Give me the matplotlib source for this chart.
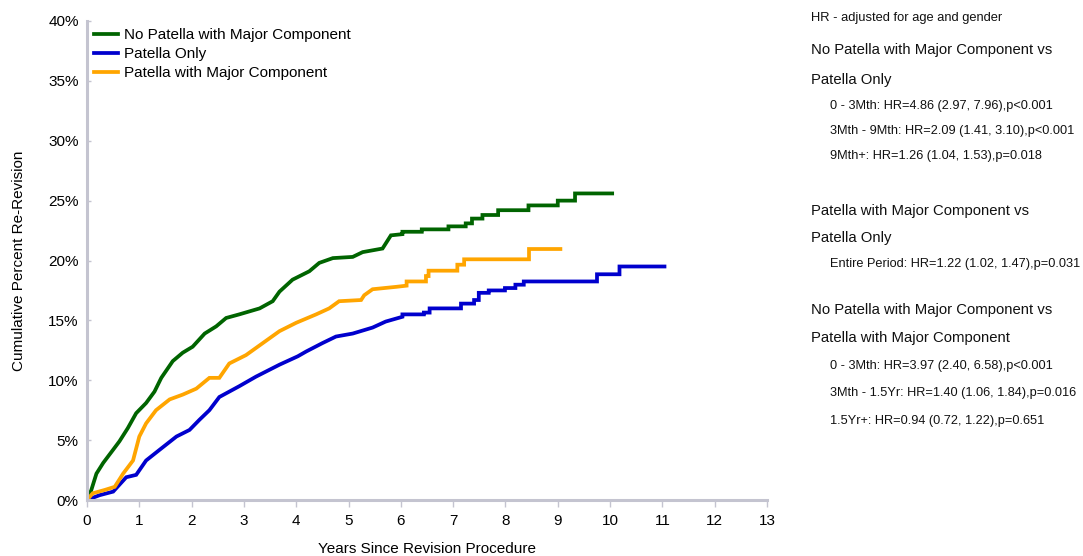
import matplotlib
matplotlib.use('Agg')
import matplotlib.pyplot as plt
import matplotlib.ticker as ticker

plt.rcParams['font.family'] = ['Liberation Sans', 'DejaVu Sans']

# vertices: years since revision, cumulative percent re-revision
green_t = [0, 0.08, 0.18, 0.31, 0.5, 0.62, 0.78, 0.94, 1.13, 1.29, 1.42, 1.64, 1.83, 2.02,
           2.25, 2.47, 2.66, 2.91, 3.3, 3.55, 3.68, 3.93, 4.25, 4.44, 4.7, 5.08, 5.27, 5.65,
           5.81, 6.03, 6.03, 6.4, 6.4, 6.91, 6.91, 7.24, 7.24, 7.36, 7.36, 7.56, 7.56,
           7.86, 7.86, 8.44, 8.44, 9.0, 9.0, 9.33, 9.33, 10.04]
green_y = [0, 0.8, 2.2, 3.1, 4.2, 4.9, 6.0, 7.25, 8.1, 9.05, 10.2, 11.6, 12.3, 12.8,
           13.9, 14.5, 15.2, 15.5, 16.0, 16.6, 17.4, 18.4, 19.1, 19.8, 20.2, 20.3, 20.7, 21.0,
           22.1, 22.2, 22.4, 22.4, 22.6, 22.6, 22.85, 22.85, 23.1, 23.1, 23.5, 23.5, 23.8,
           23.8, 24.2, 24.2, 24.6, 24.6, 25.0, 25.0, 25.6, 25.6]

blue_t = [0, 0.24, 0.5, 0.75, 0.94, 1.13, 1.39, 1.71, 1.96, 2.15, 2.34, 2.53, 2.91, 3.23,
          3.68, 4.03, 4.19, 4.5, 4.76, 5.08, 5.46, 5.71, 6.03, 6.03, 6.44, 6.44, 6.55, 6.55,
          7.15, 7.15, 7.4, 7.4, 7.49, 7.49, 7.68, 7.68, 7.99, 7.99, 8.19, 8.19, 8.35, 8.35,
          9.75, 9.75, 10.18, 10.18, 11.04]
blue_y = [0, 0.4, 0.7, 1.9, 2.1, 3.3, 4.2, 5.3, 5.85, 6.7, 7.5, 8.6, 9.5, 10.3,
          11.3, 12.0, 12.4, 13.1, 13.65, 13.9, 14.4, 14.9, 15.3, 15.5, 15.5, 15.65, 15.65, 16.0,
          16.0, 16.4, 16.4, 16.7, 16.7, 17.3, 17.3, 17.5, 17.5, 17.7, 17.7, 17.98, 17.98, 18.25,
          18.25, 18.85, 18.85, 19.5, 19.5]

orange_t = [0, 0.11, 0.34, 0.53, 0.69, 0.88, 1.0, 1.13, 1.32, 1.58, 1.83, 2.09, 2.34, 2.53,
            2.72, 3.04, 3.36, 3.68, 4.0, 4.38, 4.63, 4.82, 5.24, 5.3, 5.46, 5.91, 6.11, 6.11,
            6.48, 6.48, 6.53, 6.53, 7.08, 7.08, 7.21, 7.21, 8.45, 8.45, 9.05]
orange_y = [0, 0.56, 0.84, 1.1, 2.2, 3.3, 5.3, 6.4, 7.5, 8.4, 8.8, 9.3, 10.2, 10.2,
            11.4, 12.1, 13.1, 14.1, 14.8, 15.5, 16.0, 16.6, 16.7, 17.1, 17.6, 17.8, 17.9, 18.25,
            18.25, 18.7, 18.7, 19.15, 19.15, 19.65, 19.65, 20.1, 20.1, 20.96, 20.96]

series = [
    ('No Patella with Major Component', green_t, green_y, '#006400'),
    ('Patella Only', blue_t, blue_y, '#0000CD'),
    ('Patella with Major Component', orange_t, orange_y, '#FFA500'),
]

hr_lines = [
    # text, y (px from top), x (px), size
    ('HR - adjusted for age and gender', 18, 811, 9.3),
    ('No Patella with Major Component vs', 50, 811, 10.7),
    ('Patella Only', 80, 811, 10.7),
    ('0 - 3Mth: HR=4.86 (2.97, 7.96),p<0.001', 106, 830, 9.2),
    ('3Mth - 9Mth: HR=2.09 (1.41, 3.10),p<0.001', 131, 830, 9.2),
    ('9Mth+: HR=1.26 (1.04, 1.53),p=0.018', 156, 830, 9.2),
    ('Patella with Major Component vs', 211, 811, 10.7),
    ('Patella Only', 238, 811, 10.7),
    ('Entire Period: HR=1.22 (1.02, 1.47),p=0.031', 264, 830, 9.2),
    ('No Patella with Major Component vs', 310, 811, 10.7),
    ('Patella with Major Component', 338, 811, 10.7),
    ('0 - 3Mth: HR=3.97 (2.40, 6.58),p<0.001', 366, 830, 9.2),
    ('3Mth - 1.5Yr: HR=1.40 (1.06, 1.84),p=0.016', 393, 830, 9.2),
    ('1.5Yr+: HR=0.94 (0.72, 1.22),p=0.651', 421, 830, 9.2),
]

W, H = 1083, 556
fig = plt.figure(figsize=(W / 100, H / 100), dpi=100)
ax = fig.add_axes([87 / W, 1 - 500 / H, (767 - 87) / W, (500 - 21) / H])

for name, t, y, c in series:
    ax.plot(t, y, color=c, lw=2.7, label=name, solid_joinstyle='miter')

ax.set_xlim(0, 13)
ax.set_ylim(0, 40)
ax.xaxis.set_major_locator(ticker.MultipleLocator(1))
ax.yaxis.set_major_locator(ticker.MultipleLocator(5))
ax.yaxis.set_major_formatter(ticker.FuncFormatter(lambda v, p: '%d%%' % v))
for s in ['top', 'right']:
    ax.spines[s].set_visible(False)
for s in ['left', 'bottom']:
    ax.spines[s].set_color('#c4c4d0')
    ax.spines[s].set_linewidth(2.2)
ax.tick_params(axis='x', direction='out', length=5, width=1, color='#c4c4d0', labelsize=11, pad=5)
ax.tick_params(axis='y', direction='in', length=3, width=1, color='#c4c4d0', labelsize=11, pad=6)

ax.set_xlabel('Years Since Revision Procedure', fontsize=11, labelpad=10)
ax.set_ylabel('Cumulative Percent Re-Revision', fontsize=11, labelpad=16)

ax.legend(loc='upper left', bbox_to_anchor=(-0.006, 1.007), frameon=False, fontsize=11,
          handlelength=1.6, handletextpad=0.4, labelspacing=0.32, borderaxespad=0.3)

for txt, ypx, xpx, fs in hr_lines:
    fig.text(xpx / W, 1 - ypx / H, txt, fontsize=fs, va='center', ha='left', color='#111111')

fig.savefig('out.png', dpi=100)
